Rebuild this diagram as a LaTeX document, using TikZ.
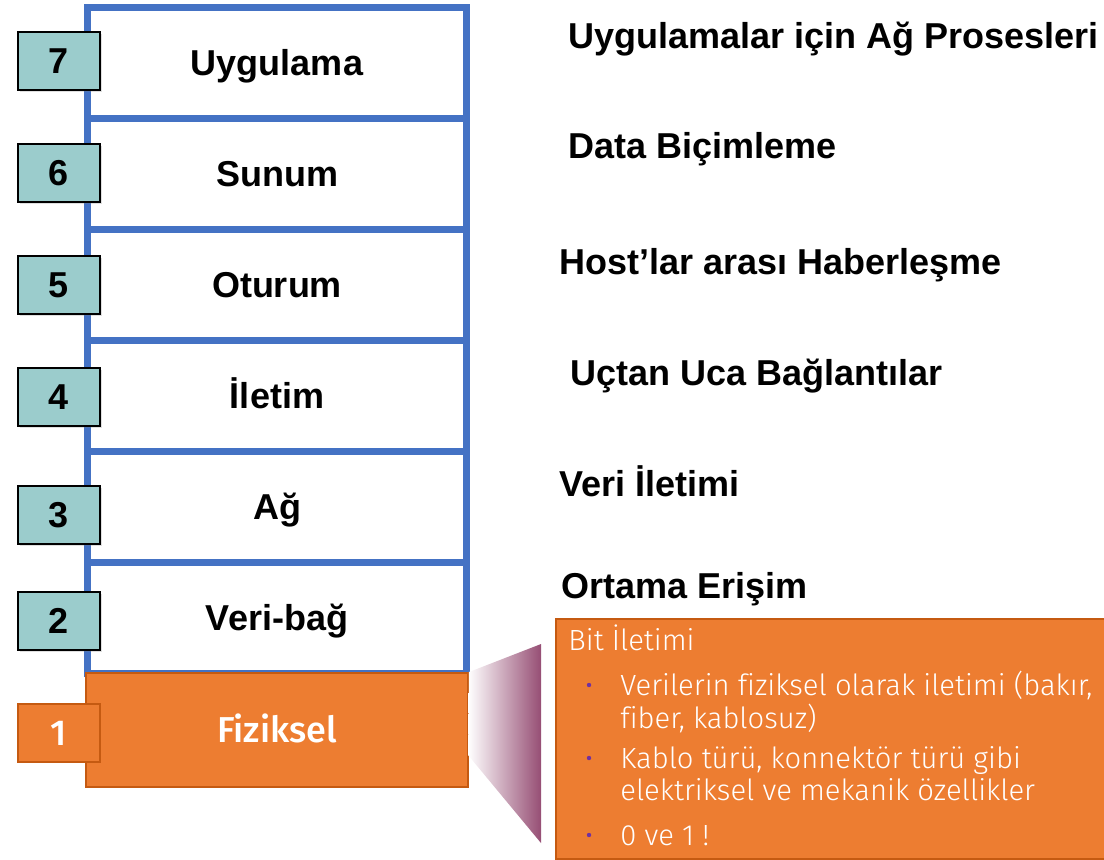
\documentclass[tikz,border=0pt]{standalone}
\usepackage{fontspec}
\setmainfont{Liberation Sans}
\newfontfamily\calloutfont[Ligatures=NoCommon]{Fira Sans Light}
\newfontfamily\physfont[Ligatures=NoCommon]{Fira Sans Medium}
\usetikzlibrary{positioning,shadows}
\definecolor{layerblue}{RGB}{68,114,196}
\definecolor{numteal}{RGB}{155,204,204}
\definecolor{physorange}{RGB}{237,125,49}
\definecolor{physedge}{RGB}{197,90,17}
\definecolor{wedgepurple}{RGB}{150,78,116}
\definecolor{dotpurple}{RGB}{112,48,160}

\begin{document}
\begin{tikzpicture}[x=0.5pt,y=-0.5pt,
    layerbox/.style={draw=layerblue,line width=3.5pt,fill=white,inner sep=0pt,
      minimum width=189.5pt,minimum height=55.5pt,
      font=\bfseries\fontsize{18}{20}\selectfont,text height=12.9pt,text depth=0pt},
    numbox/.style={draw=black,line width=1.2pt,fill=numteal,inner sep=0pt,
      minimum width=41pt,minimum height=29pt,
      font=\bfseries\fontsize{18}{20}\selectfont,text height=12.9pt,text depth=0pt,
      drop shadow={shadow xshift=1pt,shadow yshift=-1pt,opacity=0.25}},
    physbox/.style={draw=physedge,line width=1pt,fill=physorange,inner sep=0pt,
      text=white,font=\physfont\fontsize{18}{20}\selectfont,text height=12.9pt,text depth=0pt},
    desc/.style={anchor=base west,inner sep=0pt,font=\bfseries\fontsize{18}{20}\selectfont},
    callbox/.style={draw=physedge,line width=1pt,fill=physorange,anchor=north west,
      minimum width=278.5pt,minimum height=120pt},
    calltext/.style={anchor=base west,inner sep=0pt,text=white,
      font=\calloutfont\fontsize{14.6}{16}\selectfont},
    bulletdot/.style={circle,fill=dotpurple,inner sep=0pt,minimum size=2.2pt}]
  \useasboundingbox (0,0) rectangle (1104,859);
  \clip (0,0) rectangle (1104,859);

  % the seven layers
  \foreach \n/\y/\ny/\lab in {7/62.5/61/Uygulama,6/173.5/173/Sunum,5/284.5/285/Oturum,
      4/395.5/397/İletim,3/506.5/515/Ağ,2/617.5/621/Veri-bağ} {
    \node[layerbox] (L\n) at (277,\y) {\lab};
    \node[numbox] (N\n) at (59,\ny) {\n};
  }
  \node[physbox,minimum width=191pt,minimum height=57pt] (L1) at (277,730) {Fiziksel};
  \node[physbox,minimum width=41pt,minimum height=29pt] (N1) at (59,733) {1};

  % what each layer does
  \foreach \n/\x/\y/\txt in {7/568/48/Uygulamalar için Ağ Prosesleri,
      6/568/158/Data Biçimleme,5/559/274/Host’lar arası Haberleşme,
      4/570/385/Uçtan Uca Bağlantılar,3/559/496/Veri İletimi,2/561/598/Ortama Erişim}
    \node[desc] (D\n) at (\x,\y) {\txt};

  % zoom wedge and callout
  \coordinate (wedgebot) at (468,755);
  \coordinate (wedgetr) at (541,644);
  \coordinate (wedgebr) at (541,843);
  \shade[left color=white,right color=wedgepurple]
    (L1.north east) -- (wedgetr) -- (wedgebr) -- (wedgebot) -- cycle;
  \node[callbox] (bit) at (555,618) {};
  \node[calltext] (bh) at (568,650) {Bit İletimi};
  \node[calltext] (b1a) at (620,695) {Verilerin fiziksel olarak iletimi (bakır,};
  \node[calltext] (b1b) at (620,728) {fiber, kablosuz)};
  \node[calltext] (b2a) at (620,768) {Kablo türü, konnektör türü gibi};
  \node[calltext] (b2b) at (620,800) {elektriksel ve mekanik özellikler};
  \node[calltext] (b3) at (620,845) {0 ve 1 !};
  \node[bulletdot] (p1) at (589,685) {};
  \node[bulletdot] (p2) at (589,758) {};
  \node[bulletdot] (p3) at (589,835) {};
\end{tikzpicture}
\end{document}
